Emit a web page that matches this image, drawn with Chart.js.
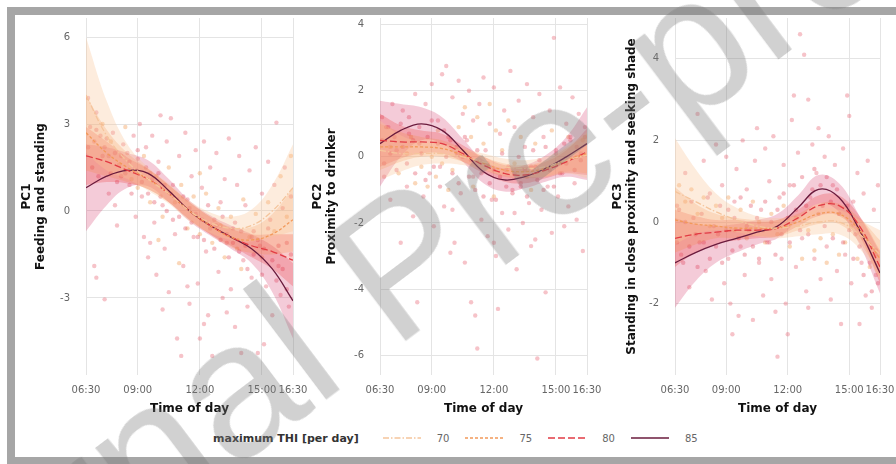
<!DOCTYPE html>
<html>
<head>
<meta charset="utf-8">
<script src="https://cdn.jsdelivr.net/npm/chart.js@4.4.1/dist/chart.umd.min.js"></script>
<style>
  html, body { margin: 0; padding: 0; background: #fff; width: 896px; height: 464px; overflow: hidden; }
  .frame { position: absolute; left: 7px; top: 7px; width: 920px; height: 458px; box-sizing: border-box; border: 8px solid #a6a6a6; }
  canvas { position: absolute; }
  .legend { position: absolute; left: 213px; top: 430px; height: 16px; display: flex; align-items: center; font-family: "DejaVu Sans", sans-serif; }
  .legend .ttl { font-size: 11px; font-weight: bold; color: #333; margin-right: 24px; }
  .legend svg { margin-right: 16px; }
  .legend .lab { font-size: 10px; color: #666; margin-right: 16px; }
  .mark { position: absolute; left: 400px; top: 262px; transform: translate(-50%, -50%) rotate(-37deg);
          font-family: "Liberation Sans", Arial, sans-serif; font-size: 192px; color: rgba(120, 120, 120, 0.34);
          white-space: nowrap; pointer-events: none; line-height: 1; }
</style>
</head>
<body>
<div class="frame"></div>
<canvas id="pc1" width="297" height="403" style="left:14px;top:14px"></canvas>
<canvas id="pc2" width="300" height="403" style="left:305px;top:14px"></canvas>
<canvas id="pc3" width="291" height="403" style="left:605px;top:14px"></canvas>
<div class="legend" id="legend"><span class="ttl">maximum THI [per day]</span></div>
<div class="mark">Journal Pre-proof</div>
<script>
// smoothed curves are read at these hours
const timePoints = [6.5, 7.5, 8.5, 9.5, 10.5, 11.5, 12.5, 13.5, 14.5, 15.5, 16.5];
const xTickHours = [6.5, 9, 12, 15, 16.5];
const xTickLabels = ['06:30', '09:00', '12:00', '15:00', '16:30'];
const thiLevels = ['70', '75', '80', '85'];

// PC1 - feeding and standing
const pc1Ticks = [-3, 0, 3, 6];
const pc1Line70 = [4.0, 2.6, 1.7, 1.1, 0.6, 0.0, -0.4, -0.6, -0.5, 0.0, 0.8];
const pc1Line75 = [2.7, 2.0, 1.5, 1.1, 0.6, 0.0, -0.5, -0.9, -1.0, -0.8, -0.3];
const pc1Line80 = [1.9, 1.7, 1.4, 1.1, 0.6, 0.0, -0.5, -0.9, -1.2, -1.4, -1.7];
const pc1Line85 = [0.8, 1.2, 1.4, 1.3, 0.7, 0.0, -0.5, -0.9, -1.3, -2.0, -3.1];
const pc1Se70 = [2.0, 1.2, 0.6, 0.4, 0.35, 0.35, 0.35, 0.4, 0.55, 0.9, 1.5];
const pc1Se75 = [1.3, 0.8, 0.5, 0.35, 0.3, 0.3, 0.3, 0.35, 0.45, 0.7, 1.1];
const pc1Se80 = [1.0, 0.7, 0.45, 0.35, 0.3, 0.3, 0.3, 0.3, 0.4, 0.6, 0.9];
const pc1Se85 = [1.5, 1.0, 0.6, 0.45, 0.4, 0.35, 0.35, 0.4, 0.5, 0.8, 1.3];
const pc1DotsHot = [
  [6.6,3.9],[6.7,2.9],[6.9,2.4],[7.0,3.4],[7.2,2.6],[7.4,2.2],[7.6,1.9],[7.8,2.7],[6.9,-1.9],[7.0,-2.3],
  [7.4,-3.05],[7.6,0.6],[7.9,0.2],[8.0,-0.5],[8.2,1.2],[8.3,2.3],[8.5,2.0],[8.6,0.9],[8.8,2.6],[8.9,-0.2],
  [9.0,1.8],[9.1,3.0],[9.2,0.5],[9.3,-0.9],[9.4,2.2],[9.5,-1.6],[9.6,1.3],[9.7,2.6],[9.8,-0.4],[9.9,-2.2],
  [10.0,1.7],[10.1,3.3],[10.2,0.2],[10.3,-1.3],[10.4,2.4],[10.5,-2.8],[10.6,3.2],[10.7,0.9],[10.8,-0.8],[10.9,-4.4],
  [11.0,1.9],[11.1,-5.0],[11.2,-1.9],[11.3,2.7],[11.4,0.4],[11.5,-3.2],[11.6,1.2],[11.7,-0.9],[11.8,2.1],[11.9,-2.5],
  [12.0,-4.4],[12.1,0.8],[12.2,2.4],[12.3,-1.4],[12.4,-3.6],[12.5,1.5],[12.6,-5.0],[12.7,-0.3],[12.8,2.0],[12.9,-2.1],
  [13.0,0.3],[13.1,-3.0],[13.2,1.1],[13.3,-1.1],[13.4,2.5],[13.5,-2.7],[13.6,-0.6],[13.7,-4.0],[13.8,0.9],[13.9,1.9],
  [14.0,-4.9],[14.1,-1.7],[14.2,0.2],[14.3,-3.3],[14.4,1.4],[14.5,-2.3],[14.6,-0.7],[14.7,2.2],[14.8,-4.9],[14.9,-1.2],
  [15.0,0.6],[15.1,-4.6],[15.2,-2.6],[15.3,1.7],[15.4,-0.3],[15.5,-3.6],[15.6,0.9],[15.7,3.05],[15.8,-1.9],[15.9,-2.9],
  [16.0,0.1],[16.1,1.5],[16.2,-1.1],[16.3,-3.3],[16.4,0.5],[10.2,-3.4],[11.4,-2.6],[12.2,-3.9],[13.3,-3.5],[9.6,-1.1]
];
const pc1DotsNear = [
  [6.6,2.2],[6.8,1.5],[7.0,2.8],[7.1,1.2],[7.3,1.9],[7.5,2.5],[7.7,1.3],[7.9,2.0],[8.0,1.0],[8.2,1.9],
  [8.4,1.3],[8.6,1.7],[8.7,0.6],[8.9,1.4],[9.0,2.1],[9.2,1.0],[9.4,1.5],[9.5,0.6],[9.7,1.1],[9.8,0.3],
  [10.0,1.3],[10.1,0.5],[10.3,0.9],[10.4,0.0],[10.6,0.6],[10.7,-0.3],[10.9,0.4],[11.0,-0.2],[11.2,0.5],[11.3,-0.6],
  [11.5,0.1],[11.6,-0.4],[11.8,-0.1],[11.9,-0.9],[12.1,-0.3],[12.2,-1.0],[12.4,0.2],[12.5,-0.6],[12.7,-1.3],[12.8,-0.5],
  [13.0,-1.0],[13.1,-0.2],[13.3,-0.8],[13.4,-1.6],[13.6,-1.1],[13.7,-0.4],[13.9,-1.4],[14.0,-0.7],[14.2,-1.2],[14.3,-2.0],
  [14.5,-0.9],[14.6,-1.5],[14.8,-1.0],[15.0,-2.2],[15.1,-1.3],[15.3,-0.6],[15.5,-1.7],[15.7,-2.4],[15.8,-1.2],[16.0,-2.0],
  [16.2,-2.7],[16.4,-1.5]
];
const pc1DotsMild = [
  [7.3,3.0],[7.7,2.4],[8.1,1.6],[8.4,2.9],[8.7,1.1],[9.0,0.8],[9.3,1.9],[9.6,0.3],[9.9,1.2],[10.2,-0.2],
  [10.5,1.5],[10.8,0.3],[11.1,0.9],[11.4,-0.6],[11.7,0.5],[12.0,-0.8],[12.3,0.6],[12.6,-1.1],[12.9,0.1],[13.2,-1.6],
  [13.5,-0.2],[13.8,-1.3],[14.1,0.4],[14.4,-0.9],[14.7,-0.1],[15.0,-1.6],[15.3,0.3],[15.6,-0.7],[15.9,1.2],[16.2,-0.2],
  [16.4,1.9],[10.0,-1.0],[11.0,-1.8],[12.0,1.3],[13.0,-0.5],[14.0,-2.0]
];

// PC2 - proximity to drinker
const pc2Ticks = [-6, -4, -2, 0, 2, 4];
const pc2Line70 = [0.2, 0.1, 0.1, 0.1, 0.0, -0.15, -0.3, -0.35, -0.3, -0.1, 0.05];
const pc2Line75 = [0.3, 0.3, 0.3, 0.25, 0.05, -0.2, -0.4, -0.45, -0.35, -0.1, 0.1];
const pc2Line80 = [0.5, 0.45, 0.45, 0.4, 0.1, -0.25, -0.5, -0.55, -0.4, -0.15, 0.15];
const pc2Line85 = [0.4, 0.8, 1.0, 0.8, 0.2, -0.45, -0.7, -0.6, -0.35, 0.0, 0.4];
const pc2Se70 = [0.9, 0.55, 0.35, 0.3, 0.25, 0.25, 0.25, 0.25, 0.3, 0.4, 0.7];
const pc2Se75 = [0.7, 0.45, 0.3, 0.25, 0.2, 0.2, 0.2, 0.2, 0.25, 0.35, 0.6];
const pc2Se80 = [0.8, 0.5, 0.35, 0.3, 0.25, 0.25, 0.25, 0.25, 0.25, 0.35, 0.7];
const pc2Se85 = [1.3, 0.8, 0.5, 0.4, 0.35, 0.35, 0.35, 0.35, 0.4, 0.6, 1.1];
const pc2DotsHot = [
  [6.6,1.2],[6.7,-0.6],[6.8,0.9],[7.0,-1.3],[7.1,1.6],[7.3,0.2],[7.5,-2.6],[7.6,1.4],[7.8,-0.9],[7.9,0.7],
  [8.1,-1.8],[8.2,1.9],[8.3,-4.4],[8.4,0.4],[8.6,-1.2],[8.7,1.6],[8.9,-0.5],[9.0,2.2],[9.1,-2.1],[9.3,1.1],
  [9.4,-0.3],[9.5,2.5],[9.6,-1.5],[9.7,2.75],[9.8,0.6],[9.9,-2.9],[10.0,1.8],[10.1,-2.6],[10.2,0.1],[10.3,2.3],
  [10.4,-1.1],[10.5,1.3],[10.6,-3.2],[10.7,0.5],[10.8,2.0],[10.9,-4.4],[11.0,-0.6],[11.1,-4.8],[11.2,-5.8],[11.3,1.6],
  [11.4,-1.9],[11.5,2.4],[11.6,0.2],[11.7,-2.4],[11.8,1.0],[11.9,-1.3],[12.0,2.1],[12.1,-3.0],[12.2,-4.6],[12.3,0.7],
  [12.4,-1.7],[12.5,1.4],[12.6,-0.4],[12.7,-2.2],[12.8,2.6],[12.9,-1.0],[13.0,0.9],[13.1,-3.4],[13.2,1.7],[13.3,-0.8],
  [13.4,-2.0],[13.5,0.3],[13.6,2.2],[13.7,-1.4],[13.8,-2.7],[13.9,1.2],[14.0,-0.3],[14.1,-6.1],[14.2,1.9],[14.3,-1.6],
  [14.4,0.6],[14.5,-4.1],[14.6,-0.9],[14.7,1.4],[14.8,-2.3],[14.9,3.6],[15.0,0.2],[15.1,-1.2],[15.2,2.1],[15.3,-0.5],
  [15.4,-2.1],[15.5,1.0],[15.6,-1.5],[15.7,0.5],[15.8,1.8],[15.9,-0.8],[16.0,-1.9],[16.1,1.3],[16.2,0.1],[16.3,-2.85],
  [16.4,0.9],[10.0,-1.6],[11.0,1.1],[12.0,-2.6],[13.0,-1.7],[14.0,-2.5]
];
const pc2DotsNear = [
  [6.6,0.5],[6.7,-0.2],[6.9,0.9],[7.0,0.1],[7.2,0.6],[7.3,-0.4],[7.5,1.0],[7.6,0.3],[7.8,-0.2],[7.9,1.2],
  [8.1,0.5],[8.2,-0.5],[8.4,0.9],[8.5,0.1],[8.7,-0.7],[8.8,0.6],[9.0,1.1],[9.1,-0.3],[9.3,0.4],[9.4,-0.9],
  [9.6,0.8],[9.7,0.0],[9.9,0.5],[10.0,-0.5],[10.2,0.3],[10.3,-0.8],[10.5,0.0],[10.6,0.6],[10.8,-0.6],[10.9,-0.1],
  [11.1,-1.0],[11.2,0.2],[11.4,-0.5],[11.5,-1.2],[11.7,-0.2],[11.8,-0.8],[12.0,-0.4],[12.1,-1.3],[12.3,-0.6],[12.4,0.1],
  [12.6,-0.9],[12.7,-0.3],[12.9,-1.1],[13.0,-0.5],[13.2,0.0],[13.3,-0.9],[13.5,-0.4],[13.6,-1.2],[13.8,-0.3],[13.9,0.2],
  [14.1,-0.7],[14.2,-0.1],[14.4,-1.0],[14.5,0.3],[14.7,-0.4],[14.9,-0.9],[15.0,0.1],[15.2,-0.5],[15.4,0.4],[15.5,-0.2],
  [15.7,0.6],[15.9,-0.4],[16.0,0.3],[16.2,-0.1],[16.4,0.6]
];
const pc2DotsMild = [
  [7.0,0.3],[7.4,-0.5],[7.8,0.1],[8.2,-0.8],[8.5,-0.3],[8.8,-0.9],[9.0,0.0],[9.2,-0.6],[9.5,-0.2],[9.8,-1.0],
  [10.0,-0.4],[10.3,0.9],[10.6,1.5],[10.9,0.6],[11.2,1.2],[11.5,0.4],[11.8,1.6],[12.1,0.8],[12.4,0.2],[12.7,1.1],
  [13.0,-0.2],[13.3,0.6],[13.6,-0.6],[14.0,0.4],[14.4,-0.4],[14.8,0.8],[15.2,-0.2],[15.6,0.6],[16.0,0.0],[16.3,0.5],
  [8.0,0.6],[9.3,0.8],[11.0,-0.9],[12.0,-1.2],[13.8,-1.0]
];

// PC3 - standing in close proximity and seeking shade
const pc3Ticks = [-2, 0, 2, 4];
const pc3Line70 = [0.75, 0.5, 0.25, 0.05, -0.1, -0.15, -0.1, 0.0, 0.0, -0.3, -0.8];
const pc3Line75 = [0.05, -0.05, -0.1, -0.15, -0.15, -0.15, 0.0, 0.2, 0.2, -0.2, -0.9];
const pc3Line80 = [-0.4, -0.3, -0.25, -0.2, -0.2, -0.15, 0.1, 0.4, 0.4, -0.1, -1.1];
const pc3Line85 = [-1.0, -0.75, -0.55, -0.4, -0.25, -0.1, 0.35, 0.8, 0.6, -0.2, -1.25];
const pc3Se70 = [1.3, 0.8, 0.45, 0.3, 0.25, 0.25, 0.25, 0.3, 0.3, 0.35, 0.6];
const pc3Se75 = [0.8, 0.5, 0.3, 0.25, 0.2, 0.2, 0.2, 0.25, 0.25, 0.3, 0.45];
const pc3Se80 = [0.7, 0.45, 0.3, 0.25, 0.2, 0.2, 0.2, 0.25, 0.25, 0.25, 0.4];
const pc3Se85 = [1.1, 0.7, 0.45, 0.35, 0.3, 0.3, 0.3, 0.35, 0.35, 0.35, 0.5];
const pc3DotsHot = [
  [6.6,0.4],[6.8,-0.8],[7.0,1.2],[7.2,-1.6],[7.4,0.1],[7.6,2.65],[7.7,-0.5],[7.9,1.5],[8.0,-1.2],[8.2,0.7],
  [8.3,-1.9],[8.5,1.9],[8.6,-0.3],[8.8,0.9],[8.9,-1.5],[9.0,1.6],[9.1,-0.9],[9.3,-2.75],[9.4,0.5],[9.5,1.3],
  [9.6,-2.3],[9.7,-0.6],[9.8,2.0],[9.9,-1.3],[10.0,0.8],[10.1,-0.2],[10.3,-2.4],[10.4,1.5],[10.5,2.3],[10.6,-1.0],
  [10.7,0.3],[10.8,-1.8],[10.9,1.8],[11.0,-0.5],[11.1,1.0],[11.2,-1.4],[11.3,2.1],[11.5,-3.3],[11.6,0.6],[11.7,-0.9],
  [11.8,1.4],[11.9,-2.0],[12.0,-2.75],[12.1,0.9],[12.2,2.5],[12.3,3.1],[12.4,-1.1],[12.5,1.7],[12.6,4.6],[12.7,-0.4],
  [12.8,4.1],[12.9,-1.7],[13.0,3.0],[13.1,0.6],[13.2,1.9],[13.3,-0.9],[13.4,1.2],[13.5,2.3],[13.6,-1.4],[13.7,0.4],
  [13.8,1.6],[13.9,-0.6],[14.0,2.1],[14.1,-1.9],[14.2,0.9],[14.3,1.4],[14.4,-1.2],[14.5,0.2],[14.6,-2.5],[14.7,1.8],
  [14.8,-0.8],[14.9,3.1],[15.0,2.6],[15.1,-1.5],[15.2,0.5],[15.3,-0.3],[15.4,1.2],[15.5,-2.5],[15.6,-1.0],[15.7,0.7],
  [15.8,-1.8],[15.9,1.5],[16.0,-0.6],[16.1,-2.1],[16.2,0.3],[16.3,-1.3],[16.4,0.9],[9.2,-2.0],[11.4,-2.2],[13.0,-2.1]
];
const pc3DotsNear = [
  [6.6,-0.5],[6.7,0.3],[6.9,-1.0],[7.0,0.0],[7.2,-0.6],[7.3,0.5],[7.5,-0.3],[7.6,-1.1],[7.8,0.2],[7.9,-0.5],
  [8.1,0.6],[8.2,-0.9],[8.4,-0.1],[8.5,-0.6],[8.7,0.4],[8.8,-1.0],[9.0,-0.2],[9.1,0.3],[9.3,-0.7],[9.4,0.1],
  [9.6,-0.4],[9.7,0.6],[9.9,-0.8],[10.0,-0.1],[10.2,0.4],[10.3,-0.6],[10.5,0.1],[10.6,-0.9],[10.8,-0.2],[10.9,0.5],
  [11.1,-0.5],[11.2,0.0],[11.4,-0.8],[11.5,0.3],[11.7,-0.3],[11.8,0.7],[12.0,0.1],[12.1,-0.5],[12.3,0.9],[12.4,0.3],
  [12.6,-0.2],[12.7,1.1],[12.9,0.4],[13.0,-0.3],[13.2,0.8],[13.3,1.3],[13.5,0.2],[13.6,0.9],[13.8,-0.1],[13.9,1.1],
  [14.1,0.5],[14.2,-0.4],[14.4,0.8],[14.5,0.2],[14.7,-0.5],[14.9,0.4],[15.0,-0.2],[15.2,-0.9],[15.3,0.0],[15.5,-0.6],
  [15.7,-1.3],[15.8,-0.4],[16.0,-1.0],[16.1,-1.7],[16.3,-0.8],[16.4,-1.5]
];
const pc3DotsMild = [
  [6.7,0.9],[7.0,0.5],[7.3,0.8],[7.6,0.2],[7.9,0.6],[8.2,-0.1],[8.5,0.4],[8.8,0.1],[9.1,0.6],[9.4,-0.2],
  [9.7,0.3],[10.0,-0.4],[10.3,0.5],[10.6,0.0],[10.9,-0.5],[11.2,0.2],[11.5,-0.3],[11.8,0.4],[12.1,-0.6],[12.4,0.1],
  [12.7,-0.9],[13.0,-0.2],[13.3,-0.7],[13.6,-0.4],[13.9,-1.0],[14.2,-0.3],[14.5,-0.8],[14.8,-0.5],[15.1,-0.1],[15.4,-0.9],
  [15.7,-0.4],[16.0,-1.1],[16.3,-0.7]
];

const lineColors = ['#f5c59c', '#f2995a', '#e23b44', '#6a1b3d'];
const bandColors = ['rgba(250, 196, 148, 0.32)', 'rgba(245, 140, 75, 0.26)', 'rgba(235, 55, 55, 0.26)', 'rgba(212, 55, 105, 0.26)'];
const lineDashes = [[6, 2, 1.5, 2], [3, 2], [7, 3], []];
const fontFamily = '"DejaVu Sans", sans-serif';

const scatterSet = (dots, color) => ({
    type: 'scatter',
    data: dots.map(([x, y]) => ({ x, y })),
    pointRadius: 2.2,
    pointBorderWidth: 0,
    pointBackgroundColor: color,
    order: 3,
});

const buildDatasets = (panel) => {
    const datasets = [];

    panel.lines.forEach((values, i) => {
        datasets.push({
            type: 'line',
            data: timePoints.map((t, k) => ({ x: t, y: values[k] + panel.ses[i][k] })),
            borderWidth: 0,
            pointRadius: 0,
            fill: false,
            tension: 0.4,
            order: 2,
        });
        datasets.push({
            type: 'line',
            data: timePoints.map((t, k) => ({ x: t, y: values[k] - panel.ses[i][k] })),
            borderWidth: 0,
            pointRadius: 0,
            fill: '-1',
            backgroundColor: bandColors[i],
            tension: 0.4,
            order: 2,
        });
    });

    panel.lines.forEach((values, i) => {
        datasets.push({
            type: 'line',
            label: thiLevels[i],
            data: timePoints.map((t, k) => ({ x: t, y: values[k] })),
            borderColor: lineColors[i],
            borderDash: lineDashes[i],
            borderWidth: 1.3,
            pointRadius: 0,
            fill: false,
            tension: 0.4,
            order: 0,
        });
    });

    datasets.push(scatterSet(panel.dotsHot, 'rgba(232, 96, 112, 0.38)'));
    datasets.push(scatterSet(panel.dotsNear, 'rgba(226, 78, 96, 0.38)'));
    datasets.push(scatterSet(panel.dotsMild, 'rgba(244, 160, 90, 0.42)'));

    return datasets;
};

const makePanel = (canvasId, panel) => {
    new Chart(document.getElementById(canvasId), {
        data: { datasets: buildDatasets(panel) },
        options: {
            responsive: false,
            devicePixelRatio: 1,
            animation: false,
            events: [],
            layout: { padding: { top: 4, right: panel.padRight, bottom: 0, left: 0 } },
            plugins: { legend: { display: false }, tooltip: { enabled: false } },
            scales: {
                x: {
                    type: 'linear',
                    min: 6.5,
                    max: 16.5,
                    afterBuildTicks(scale) {
                        scale.ticks = xTickHours.map((v) => ({ value: v }));
                    },
                    afterFit(scale) {
                        scale.height = 42;
                        scale.paddingLeft = 0;
                        scale.paddingRight = 0;
                    },
                    ticks: {
                        autoSkip: false,
                        maxRotation: 0,
                        minRotation: 0,
                        padding: 9,
                        color: '#666',
                        font: { family: fontFamily, size: 10 },
                        callback: (value, index) => xTickLabels[index],
                    },
                    grid: { color: '#e4e4e4', drawTicks: false },
                    border: { display: false },
                    title: {
                        display: true,
                        text: 'Time of day',
                        color: '#111',
                        font: { family: fontFamily, size: 12, weight: 'bold', lineHeight: 1.15 },
                        padding: { top: 0, bottom: 1 },
                    },
                },
                y: {
                    type: 'linear',
                    min: panel.yMin,
                    max: panel.yMax,
                    afterBuildTicks(scale) {
                        scale.ticks = panel.ticks.map((v) => ({ value: v }));
                    },
                    afterFit(scale) {
                        scale.width = panel.yWidth;
                        scale.paddingTop = 0;
                        scale.paddingBottom = 0;
                    },
                    ticks: {
                        padding: 16,
                        color: '#666',
                        font: { family: fontFamily, size: 10 },
                    },
                    grid: { color: '#e4e4e4', drawTicks: false },
                    border: { display: false },
                    title: {
                        display: true,
                        text: panel.title,
                        color: '#111',
                        font: { family: fontFamily, size: 12, weight: 'bold', lineHeight: 1.15 },
                        padding: { top: 6, bottom: 0 },
                    },
                },
            },
        },
    });
};

makePanel('pc1', {
    lines: [pc1Line70, pc1Line75, pc1Line80, pc1Line85],
    ses: [pc1Se70, pc1Se75, pc1Se80, pc1Se85],
    dotsHot: pc1DotsHot,
    dotsNear: pc1DotsNear,
    dotsMild: pc1DotsMild,
    ticks: pc1Ticks,
    yMin: -5.66,
    yMax: 6.66,
    yWidth: 72,
    padRight: 18,
    title: ['PC1', 'Feeding and standing'],
});

makePanel('pc2', {
    lines: [pc2Line70, pc2Line75, pc2Line80, pc2Line85],
    ses: [pc2Se70, pc2Se75, pc2Se80, pc2Se85],
    dotsHot: pc2DotsHot,
    dotsNear: pc2DotsNear,
    dotsMild: pc2DotsMild,
    ticks: pc2Ticks,
    yMin: -6.6,
    yMax: 4.2,
    yWidth: 75,
    padRight: 18,
    title: ['PC2', 'Proximity to drinker'],
});

makePanel('pc3', {
    lines: [pc3Line70, pc3Line75, pc3Line80, pc3Line85],
    ses: [pc3Se70, pc3Se75, pc3Se80, pc3Se85],
    dotsHot: pc3DotsHot,
    dotsNear: pc3DotsNear,
    dotsMild: pc3DotsMild,
    ticks: pc3Ticks,
    yMin: -3.75,
    yMax: 5.0,
    yWidth: 70,
    padRight: 16,
    title: ['PC3', 'Standing in close proximity and seeking shade'],
});

// shared legend for the four THI curves
const legend = document.getElementById('legend');
thiLevels.forEach((level, i) => {
    const svg = document.createElementNS('http://www.w3.org/2000/svg', 'svg');
    svg.setAttribute('width', '38');
    svg.setAttribute('height', '6');
    const line = document.createElementNS('http://www.w3.org/2000/svg', 'line');
    line.setAttribute('x1', '0');
    line.setAttribute('x2', '38');
    line.setAttribute('y1', '3');
    line.setAttribute('y2', '3');
    line.setAttribute('stroke', lineColors[i]);
    line.setAttribute('stroke-width', '1.6');
    line.setAttribute('stroke-dasharray', lineDashes[i].join(' '));
    svg.appendChild(line);
    legend.appendChild(svg);

    const label = document.createElement('span');
    label.className = 'lab';
    label.textContent = level;
    legend.appendChild(label);
});
</script>
</body>
</html>
